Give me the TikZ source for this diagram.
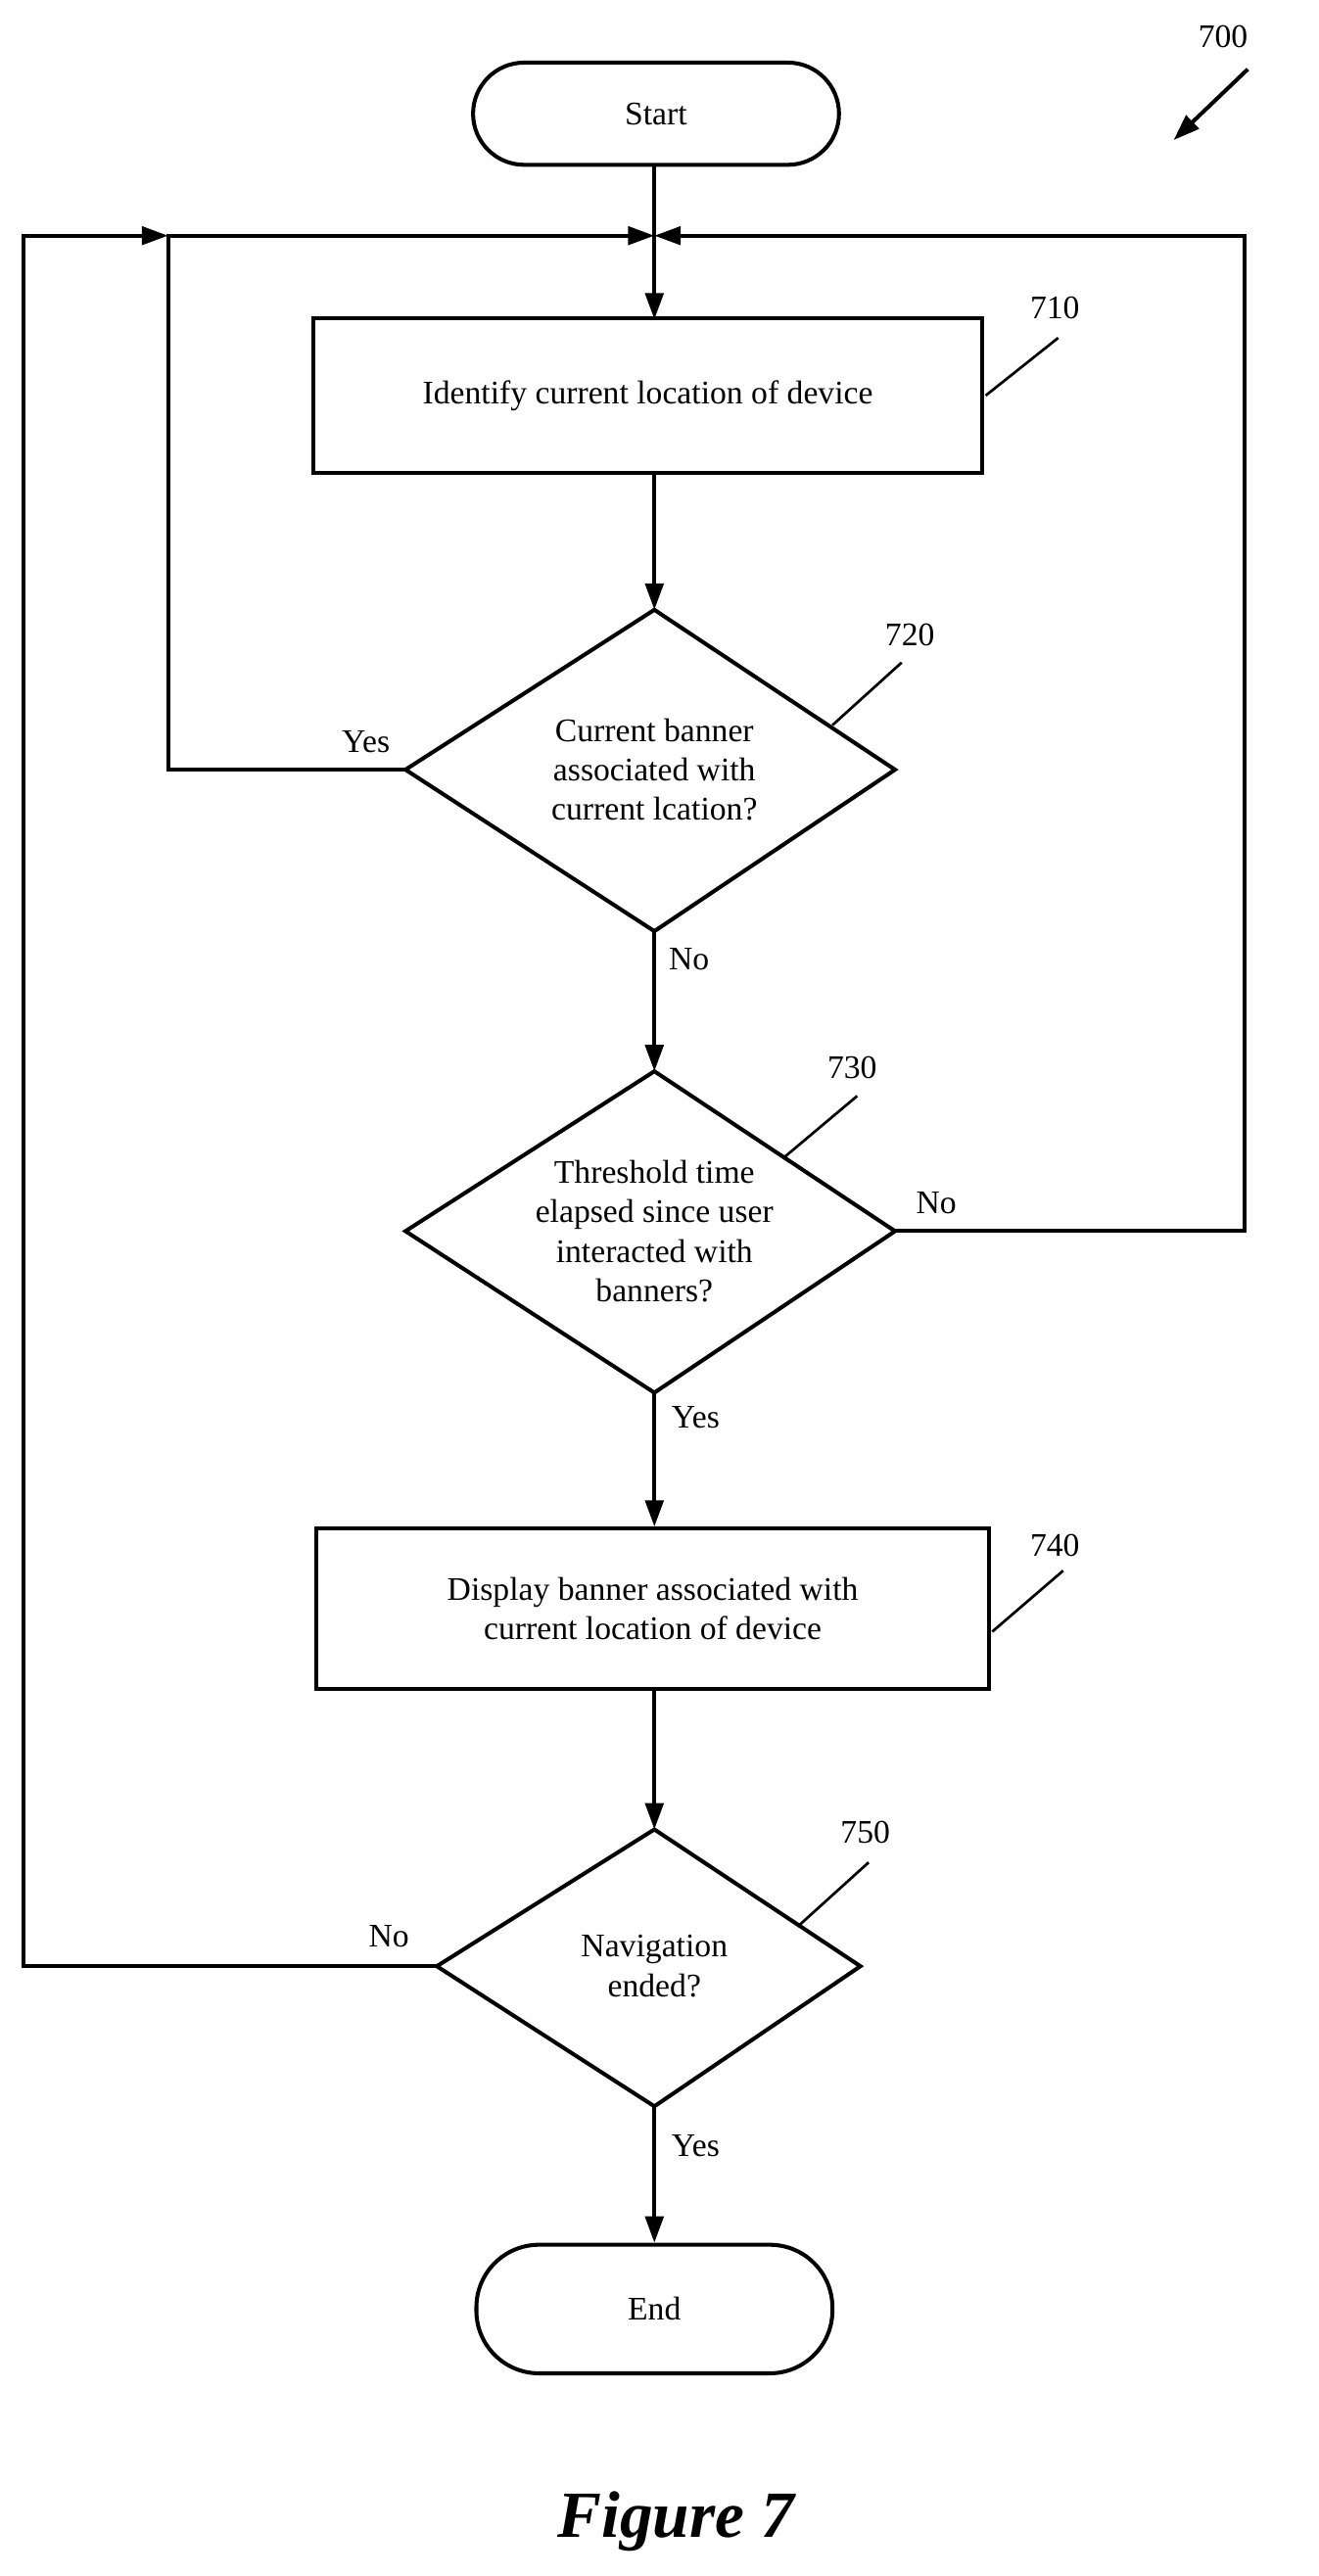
\documentclass[tikz,border=0pt]{standalone}
\usepackage{fontspec}
\setmainfont{Liberation Serif}
\usetikzlibrary{shapes.geometric,arrows.meta}
\begin{document}
\begin{tikzpicture}[x=1pt,y=-1pt,
  ln/.style={line width=2.4pt},
  ar/.style={ln,-{Triangle[length=16pt,width=11pt]}},
  txt/.style={font=\fontsize{20}{24}\selectfont,align=center},
  pill/.style={draw,ln,rounded corners=31pt,txt},
  box/.style={draw,ln,txt},
  ref/.style={line width=1.6pt}]
\useasboundingbox (0,0) rectangle (800,1563);
\node[pill,minimum width=222pt,minimum height=62pt] (start) at (398,69) {Start};
\coordinate (m) at (397,143);
\coordinate (ml) at (102,143);
\coordinate (mr) at (755,143);
\coordinate (fl) at (14,143);
\node[box,minimum width=406pt,minimum height=94pt] (b710) at (393,240) {Identify current location of device};
\draw[ln,fill=white] (397,370) -- (543,467) -- (397,565) -- (246,467) -- cycle;
\node[txt] (d720) at (397,467) {Current banner\\associated with\\current lcation?};
\coordinate (d720t) at (397,370); \coordinate (d720b) at (397,565); \coordinate (d720l) at (246,467);
\draw[ln] (397,650) -- (543,747) -- (397,845) -- (246,747) -- cycle;
\node[txt] (d730) at (397,747) {Threshold time\\elapsed since user\\interacted with\\banners?};
\coordinate (d730t) at (397,650); \coordinate (d730b) at (397,845); \coordinate (d730r) at (543,747);
\node[box,minimum width=408pt,minimum height=97pt] (b740) at (396,976) {Display banner associated with\\current location of device};
\draw[ln] (397,1110) -- (522,1193) -- (397,1278) -- (265,1193) -- cycle;
\node[txt] (d750) at (397,1193) {Navigation\\ended?};
\coordinate (d750t) at (397,1110); \coordinate (d750b) at (397,1278); \coordinate (d750l) at (265,1193);
\node[pill,minimum width=216pt,minimum height=78pt,rounded corners=38pt] (end) at (397,1401) {End};

\draw[ar] (start.south -| m) -- ([yshift=-2pt]b710.north -| m);
\draw[ar] (b710.south -| m) -- (d720t);
\draw[ar] (d720b) -- (d730t);
\draw[ar] (d730b) -- (b740.north -| m);
\draw[ar] (b740.south -| m) -- (d750t);
\draw[ar] (d750b) -- (end.north -| m);
\draw[ar] (d720l) -- (102,467) -- (ml) -- (m);
\draw[ar] (d730r) -- (755,747) -- (mr) -- (m);
\draw[ar] (d750l) -- (14,1193) -- (fl) -- (ml);

\node[txt] at (222,450) {Yes};
\node[txt] at (418,582) {No};
\node[txt] at (568,730) {No};
\node[txt] at (422,860) {Yes};
\node[txt] at (236,1175) {No};
\node[txt] at (422,1302) {Yes};

\node[txt] (r700) at (742,22) {700};
\draw[ar] (757,42) -- (712,85);
\node[txt] (r710) at (640,187) {710};
\draw[ref] (598,240) -- (642,205);
\node[txt] (r720) at (552,385) {720};
\draw[ref] (505,440) -- (547,402);
\node[txt] (r730) at (517,648) {730};
\draw[ref] (476,702) -- (520,665);
\node[txt] (r740) at (640,938) {740};
\draw[ref] (602,990) -- (645,953);
\node[txt] (r750) at (525,1112) {750};
\draw[ref] (485,1168) -- (527,1130);
\node[font=\fontsize{40}{48}\selectfont\bfseries\itshape] (fig) at (410,1530) {Figure 7};
\end{tikzpicture}
\end{document}
